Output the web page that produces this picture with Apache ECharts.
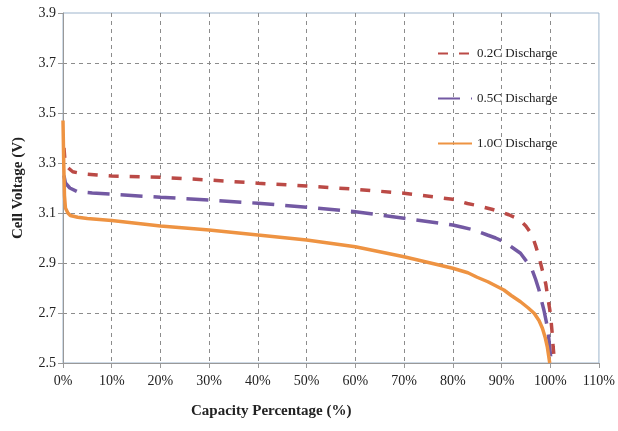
<!DOCTYPE html>
<html>
<head>
    <meta charset="UTF-8">
    <title>Cell Voltage vs Capacity</title>
    <script src="https://cdn.jsdelivr.net/npm/echarts@6/dist/echarts.min.js"></script>
    <style>
        body { margin: 0; background: #fff; }
    </style>
</head>
<body>
    <div id="chart" style="width:618px; height:431px;"></div>

    <script>
        // capacity %, voltage pairs
        var names = ['0.2C Discharge', '0.5C Discharge', '1.0C Discharge'];

        var d02 = [
            [0.2, 3.36], [0.4, 3.31], [0.8, 3.285], [2, 3.265], [4, 3.257], [7, 3.252], [10, 3.248],
            [20, 3.243], [30, 3.232], [40, 3.219], [50, 3.208], [60, 3.195], [70, 3.179], [80, 3.155],
            [83, 3.138], [85, 3.13], [88, 3.115], [90, 3.104], [91.5, 3.093], [93, 3.08], [94, 3.067],
            [95, 3.048], [96, 3.02], [96.5, 2.998], [97, 2.97], [97.7, 2.925], [98.4, 2.87], [98.8, 2.84],
            [99.1, 2.815], [99.6, 2.75], [99.9, 2.715], [100.1, 2.685], [100.4, 2.62], [100.6, 2.565],
            [100.9, 2.5]
        ];
        var d05 = [
            [0.2, 3.25], [0.5, 3.22], [1.4, 3.2], [3, 3.185], [6, 3.18], [10, 3.175], [20, 3.163],
            [30, 3.152], [40, 3.139], [50, 3.123], [60, 3.105], [70, 3.079], [80, 3.052], [82, 3.043],
            [84.4, 3.032], [87.1, 3.012], [88.8, 3.0], [90.5, 2.985], [92, 2.965], [93.9, 2.939],
            [95.2, 2.905], [95.8, 2.89], [96.3, 2.872], [97, 2.835], [97.7, 2.792], [98.2, 2.75],
            [98.7, 2.712], [99.2, 2.665], [99.6, 2.619], [100.1, 2.525], [100.2, 2.5]
        ];
        var d10 = [
            [0, 3.47], [0.15, 3.3], [0.3, 3.17], [0.5, 3.12], [1, 3.1], [1.5, 3.09], [3, 3.083],
            [5, 3.078], [10, 3.07], [20, 3.048], [30, 3.032], [40, 3.012], [50, 2.992], [60, 2.965],
            [70, 2.925], [80, 2.879], [83.1, 2.861], [85, 2.843], [87.2, 2.825], [90.5, 2.792],
            [92, 2.77], [93.9, 2.745], [95.5, 2.72], [96.7, 2.699], [97.7, 2.67], [98.4, 2.639],
            [99, 2.6], [99.4, 2.565], [99.9, 2.5]
        ];

        var serif = 'Liberation Serif, Times New Roman, serif';
        var chart = echarts.init(document.getElementById('chart'), null, {renderer: 'canvas'});

        chart.setOption({
            animation: false,
            textStyle: {fontFamily: serif},
            grid: {
                left: 63, right: 16, top: 13, bottom: 68,
                show: true, borderColor: '#9db4cc', borderWidth: 1
            },
            legend: {
                orient: 'vertical',
                left: 432, top: 42,
                itemWidth: 34, itemHeight: 14, itemGap: 32,
                itemStyle: {opacity: 0},
                textStyle: {fontFamily: serif, fontSize: 13, color: '#222'},
                data: names
            },
            xAxis: {
                type: 'value', min: 0, max: 110, interval: 10,
                axisLine: {lineStyle: {color: '#999'}},
                axisTick: {show: true, length: 5, lineStyle: {color: '#999'}},
                axisLabel: {formatter: '{value}%', margin: 11, fontSize: 14, color: '#222', fontFamily: serif},
                splitLine: {show: true, showMinLine: false, showMaxLine: false,
                    lineStyle: {color: '#8c8c8c', type: [4, 4], width: 1}}
            },
            yAxis: {
                type: 'value', min: 2.5, max: 3.9, interval: 0.2,
                name: 'Cell Voltage (V)', nameLocation: 'middle', nameGap: 37,
                nameTextStyle: {fontFamily: serif, fontSize: 15, fontWeight: 'bold', color: '#222'},
                axisLine: {show: true, lineStyle: {color: '#999'}},
                axisTick: {show: true, length: 5, lineStyle: {color: '#999'}},
                axisLabel: {formatter: function (v) { return v.toFixed(1); }, margin: 7,
                    fontSize: 14, color: '#222', fontFamily: serif},
                splitLine: {show: true, showMinLine: false, showMaxLine: false,
                    lineStyle: {color: '#8c8c8c', type: [4, 4], width: 1}}
            },
            graphic: [{
                type: 'text', left: 191, top: 404,
                style: {text: 'Capacity Percentage (%)', font: 'bold 15px ' + serif, fill: '#222'}
            }],
            series: [
                {
                    name: names[0], type: 'line', data: d02, showSymbol: false, symbol: 'none',
                    lineStyle: {color: '#bb4a46', width: 3.5, type: [10, 11]},
                    itemStyle: {color: '#bb4a46'}, z: 3
                },
                {
                    name: names[1], type: 'line', data: d05, showSymbol: false, symbol: 'none',
                    lineStyle: {color: '#7359a3', width: 3.5, type: [22, 11]},
                    itemStyle: {color: '#7359a3'}, z: 2
                },
                {
                    name: names[2], type: 'line', data: d10, showSymbol: false, symbol: 'none',
                    lineStyle: {color: '#ee9342', width: 3.5},
                    itemStyle: {color: '#ee9342'}, z: 4
                }
            ]
        });
    </script>
</body>
</html>
